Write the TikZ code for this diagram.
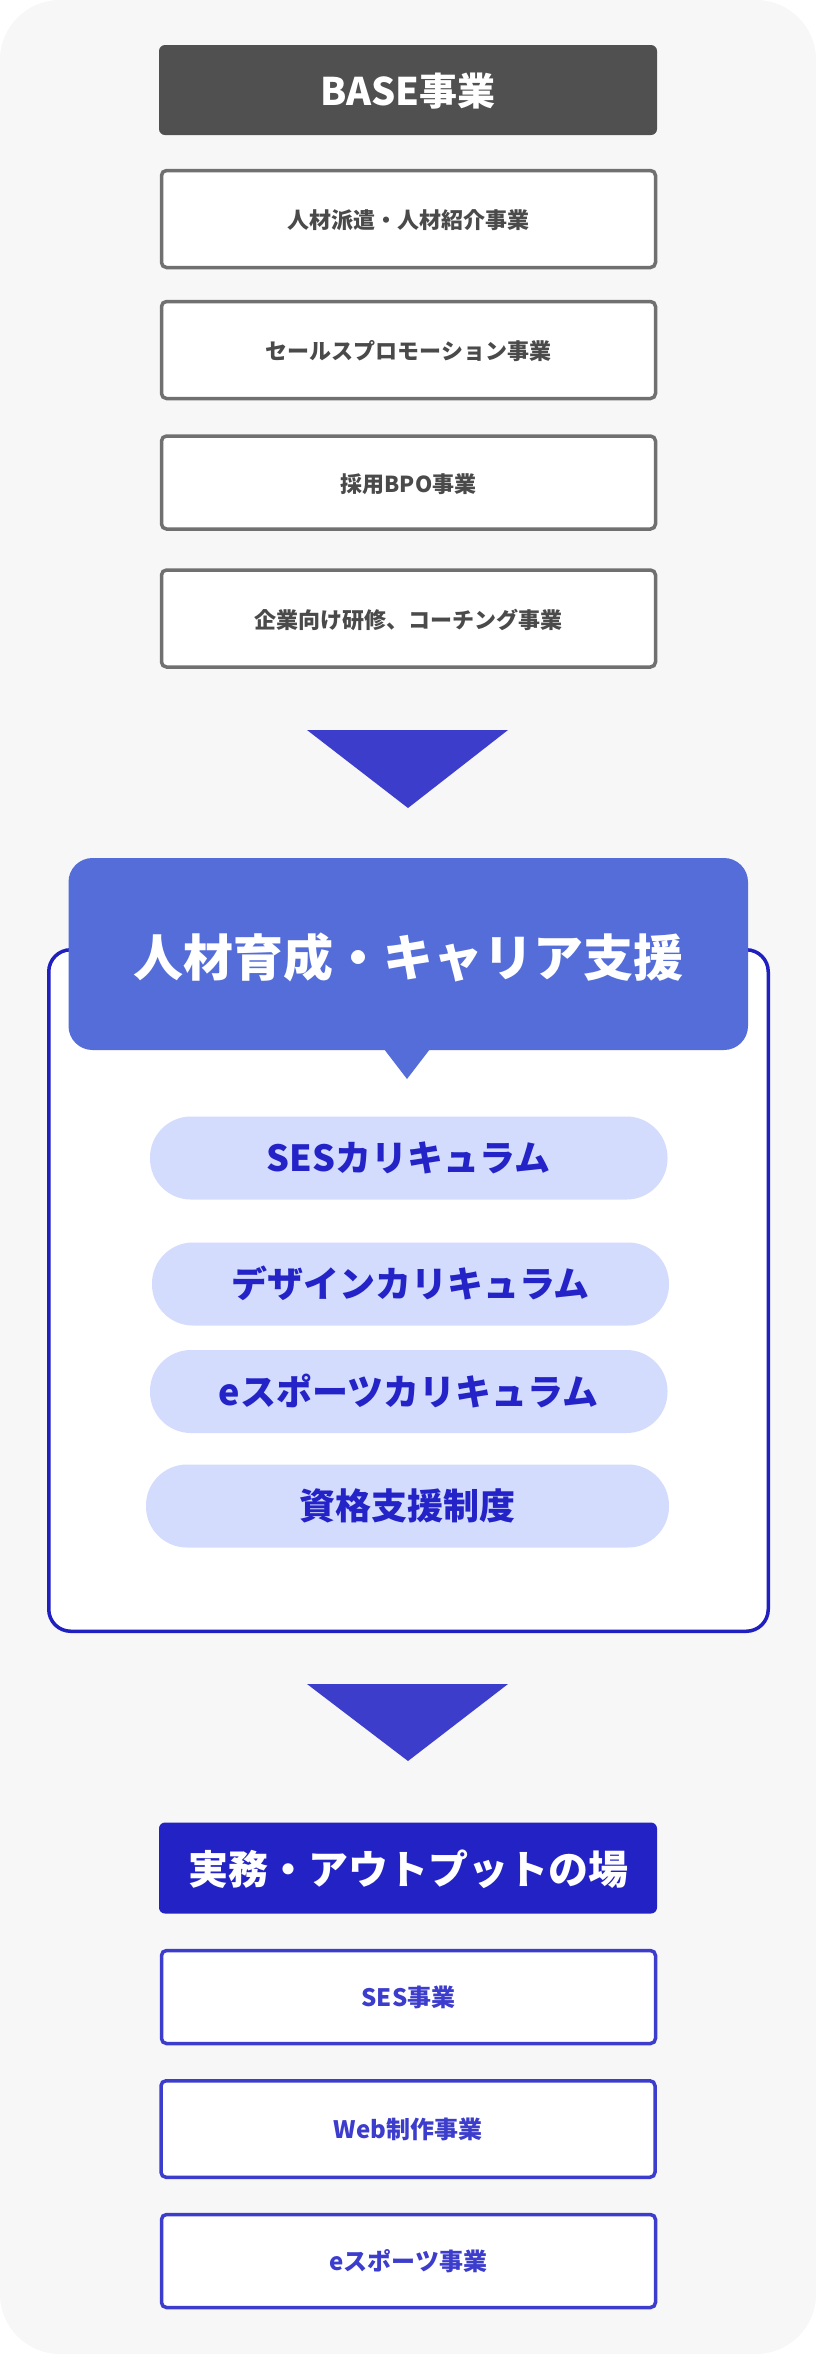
\documentclass[tikz,border=0pt]{standalone}
\usepackage{fontspec}
\setmainfont{Noto Sans CJK JP}
\usetikzlibrary{calc}
\definecolor{bggray}{HTML}{F7F7F7}
\definecolor{basefill}{HTML}{505050}
\definecolor{grayline}{HTML}{707070}
\definecolor{graytext}{HTML}{4A4A4A}
\definecolor{arrowblue}{HTML}{3D3DCC}
\definecolor{outerblue}{HTML}{2020C0}
\definecolor{headfill}{HTML}{546DD9}
\definecolor{pillfill}{HTML}{D3DCFD}
\definecolor{pilltext}{HTML}{2323C8}
\definecolor{darkblue}{HTML}{2323C5}
\definecolor{boxblue}{HTML}{3C3CCD}
\tikzset{
  txt/.style={anchor=base, inner sep=0pt},
  basebox/.style={fill=basefill, rounded corners=6pt, inner sep=0pt, minimum width=498pt, minimum height=90pt},
  graybox/.style={draw=grayline, line width=3.5pt, fill=white, rounded corners=5pt, inner sep=0pt, minimum width=494pt, minimum height=97pt},
  bluebox/.style={draw=boxblue, line width=3.5pt, fill=white, rounded corners=5pt, inner sep=0pt, minimum width=494pt, minimum height=93pt},
  pill/.style={fill=pillfill, rounded corners=41pt, inner sep=0pt, minimum height=83pt},
  darkbox/.style={fill=darkblue, rounded corners=6pt, inner sep=0pt, minimum width=498pt, minimum height=91pt},
  downtri/.style={fill=arrowblue},
  gtxt/.style={txt, text=graytext, font=\bfseries\fontsize{22}{24}\selectfont},
  ptxt/.style={txt, text=pilltext, font=\bfseries\fontsize{36}{38}\selectfont},
  btxt/.style={txt, text=boxblue, font=\bfseries\fontsize{24}{26}\selectfont},
}
\begin{document}
\begin{tikzpicture}[x=1pt,y=-1pt]
\useasboundingbox (0,0) rectangle (816,2354);
\fill[bggray, rounded corners=60pt] (0,0) rectangle (816,2354);

% BASE section
\node[basebox] (base) at (408,90) {};
\node[txt, text=white, font=\bfseries\fontsize{38}{40}\selectfont] (baset) at ($(base.center)+(0,15.5)$) {BASE事業};

\node[graybox] (g1) at (408.5,219) {};
\node[gtxt] (g1t) at ($(g1.center)+(0,9.5)$) {人材派遣・人材紹介事業};
\node[graybox] (g2) at (408.5,350) {};
\node[gtxt] (g2t) at ($(g2.center)+(0,9.5)$) {セールスプロモーション事業};
\node[graybox, minimum height=93pt] (g3) at (408.5,482.5) {};
\node[gtxt] (g3t) at ($(g3.center)+(0,9.5)$) {採用BPO事業};
\node[graybox] (g4) at (408.5,618.5) {};
\node[gtxt] (g4t) at ($(g4.center)+(0,9.5)$) {企業向け研修、コーチング事業};

% Arrow 1
\coordinate (a1l) at (307,730);
\coordinate (a1r) at (508,730);
\coordinate (a1b) at (408,808);
\fill[downtri] (a1l) -- (a1r) -- (a1b) -- cycle;

% Career support section
\node[draw=outerblue, line width=3.5pt, fill=white, rounded corners=22pt, inner sep=0pt, minimum width=719.5pt, minimum height=681.5pt] (outer) at (408.5,1290.5) {};
\node[fill=headfill, rounded corners=24pt, inner sep=0pt, minimum width=679.5pt, minimum height=192pt] (head) at (408.25,954) {};
\coordinate (pl) at (384,1049);
\coordinate (pr) at (430,1049);
\coordinate (pt) at (407,1079);
\fill[headfill] (pl) -- (pr) -- (pt) -- cycle;
\node[txt, text=white, font=\bfseries\fontsize{50}{52}\selectfont] (headt) at (408,976.5) {人材育成・キャリア支援};

\node[pill, minimum width=517.5pt] (p1) at (408.75,1158) {};
\node[ptxt] (p1t) at ($(p1.center)+(0,13.5)$) {SESカリキュラム};
\node[pill, minimum width=517pt] (p2) at (410.5,1284) {};
\node[ptxt] (p2t) at ($(p2.center)+(0,13.5)$) {デザインカリキュラム};
\node[pill, minimum width=517.5pt] (p3) at (408.75,1391.5) {};
\node[ptxt] (p3t) at ($(p3.center)+(0,13.5)$) {eスポーツカリキュラム};
\node[pill, minimum width=523pt] (p4) at (407.5,1506) {};
\node[ptxt] (p4t) at ($(p4.center)+(0,13.5)$) {資格支援制度};

% Arrow 2
\coordinate (a2l) at (307,1684);
\coordinate (a2r) at (508,1684);
\coordinate (a2b) at (408,1761);
\fill[downtri] (a2l) -- (a2r) -- (a2b) -- cycle;

% Practice section
\node[darkbox] (prac) at (408,1868) {};
\node[txt, text=white, font=\bfseries\fontsize{40}{42}\selectfont] (pract) at ($(prac.center)+(0,16.5)$) {実務・アウトプットの場};

\node[bluebox] (b1) at (408.5,1997) {};
\node[btxt] (b1t) at ($(b1.center)+(0,9.5)$) {SES事業};
\node[bluebox, minimum height=96.5pt] (b2) at (408,2129) {};
\node[btxt] (b2t) at ($(b2.center)+(0,9.5)$) {Web制作事業};
\node[bluebox] (b3) at (408.5,2261) {};
\node[btxt] (b3t) at ($(b3.center)+(0,9.5)$) {eスポーツ事業};
\end{tikzpicture}
\end{document}
